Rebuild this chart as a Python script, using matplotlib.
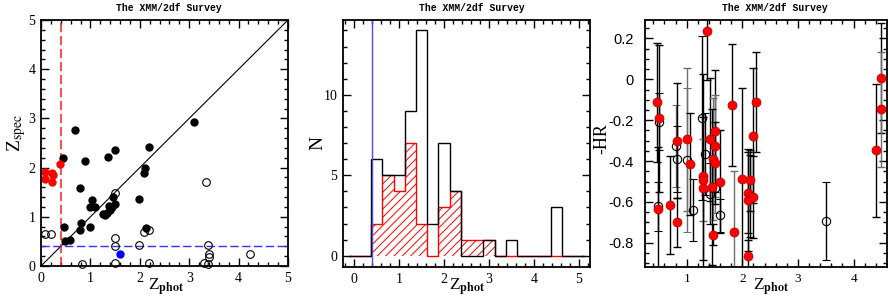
import numpy as np
import matplotlib
matplotlib.use("Agg")
import matplotlib.pyplot as plt
from matplotlib.ticker import MultipleLocator, FuncFormatter

plt.rcParams['font.family'] = ['Liberation Serif', 'DejaVu Serif']
plt.rcParams['mathtext.fontset'] = 'stix'
plt.rcParams['hatch.linewidth'] = 0.7

TITLE = "The XMM/2df Survey"

# ---------------- Panel 1 data: z_phot vs z_spec ----------------
p1_black_x = [0.69, 0.44, 0.89, 1.36, 1.50, 0.79, 1.03, 0.99, 1.10, 1.45, 1.49, 1.38,
              1.25, 1.30, 1.34, 1.40, 1.43, 0.46, 0.81, 0.79, 0.99, 0.49, 0.59,
              1.98, 2.19, 2.10, 2.09, 2.13, 3.10]
p1_black_y = [2.76, 2.20, 2.13, 2.21, 2.35, 1.59, 1.34, 1.19, 1.19, 1.40, 1.27, 1.22,
              1.05, 1.04, 1.08, 1.14, 1.19, 0.79, 0.87, 0.73, 0.80, 0.50, 0.53,
              1.37, 2.42, 1.99, 1.90, 0.78, 2.92]
p1_red_x = [0.08, 0.09, 0.23, 0.24, 0.22, 0.38]
p1_red_y = [1.91, 1.76, 1.89, 1.84, 1.70, 2.07]
p1_blue_x = [1.59]
p1_blue_y = [0.24]
p1_open_x = [0.08, 0.20, 0.82, 1.50, 1.49, 1.49, 1.50, 1.98, 2.09, 2.19, 2.19,
             3.35, 3.39, 3.40, 3.40, 3.30, 3.39, 4.23]
p1_open_y = [0.65, 0.66, 0.04, 1.49, 0.56, 0.41, 0.07, 0.43, 0.70, 0.73, 0.07,
             1.71, 0.43, 0.24, 0.19, 0.07, 0.05, 0.24]
p1_cut = 0.4

# ---------------- Panel 2 data: histograms ----------------
hist_edges = [-0.125 + 0.25 * i for i in range(22)]
hist_all = [0, 0, 6, 5, 5, 9, 14, 2, 7, 4, 0, 0, 1, 0, 1, 0, 0, 0, 3, 0, 0]
hist_sel = [0, 0, 2, 5, 4, 7, 2, 0, 3, 4, 1, 1, 1, 0, 0, 0, 0, 0, 0, 0, 0]

# ---------------- Panel 3 data: -HR vs z_phot ----------------
hr_red_x = [0.46, 0.51, 0.48, 0.70, 0.82, 0.82, 1.00, 1.06, 1.37, 1.30, 1.30, 1.30,
            1.41, 1.50, 1.50, 1.47, 1.51, 1.46, 1.48, 1.82, 1.85, 2.25, 2.20, 1.60,
            2.00, 2.14, 2.10, 2.13, 2.10, 2.20, 2.10, 4.50, 4.49, 4.40]
hr_red_y = [-0.113, -0.19, -0.632, -0.613, -0.30, -0.70, -0.293, -0.415, 0.238, -0.474,
            -0.494, -0.534, -0.293, -0.253, -0.327, -0.39, -0.41, -0.526, -0.76, -0.126,
            -0.747, -0.11, -0.276, -0.50, -0.489, -0.494, -0.554, -0.572, -0.59, -0.575,
            -0.865, 0.006, -0.147, -0.348]
hr_red_err = [0.29, 0.36, 0.30, 0.24, 0.28, 0.12, 0.35, 0.25, 0.24, 0.50, 0.20, 0.35,
              0.30, 0.30, 0.25, 0.30, 0.20, 0.38, 0.05, 0.30, 0.30, 0.245, 0.33, 0.25,
              0.445, 0.15, 0.20, 0.20, 0.25, 0.20, 0.08, 0.27, 0.28, 0.325]
hr_red_col = ['k', 'k', 'k', 'k', 'k', 'k', 'g', 'k', 'k', 'k', 'g', 'k',
              'k', 'k', 'g', 'g', 'k', 'k', 'k', 'k', 'g', 'k', 'k', 'k',
              'k', 'k', 'k', 'k', 'k', 'k', 'k', 'k', 'g', 'k']
hr_open_x = [0.51, 0.48, 0.81, 0.83, 1.01, 1.11, 1.27, 1.33, 1.42, 1.51, 1.60, 3.50]
hr_open_y = [-0.208, -0.62, -0.325, -0.39, -0.395, -0.64, -0.19, -0.366, -0.56, -0.534,
             -0.665, -0.693]
hr_open_err = [0.14, 0.12, 0.20, 0.16, 0.35, 0.15, 0.40, 0.20, 0.15, 0.12, 0.08, 0.19]
hr_open_col = ['k', 'k', 'g', 'k', 'g', 'k', 'k', 'k', 'k', 'g', 'k', 'k']

W, H = 888, 299
fig = plt.figure(figsize=(W / 100, H / 100), dpi=100)


def px_axes(x0, x1, y0, y1):
    return fig.add_axes([x0 / W, 1 - y1 / H, (x1 - x0) / W, (y1 - y0) / H])


def style(ax):
    for s in ax.spines.values():
        s.set_linewidth(1.3)
    ax.tick_params(which='both', direction='in', top=True, right=True, width=1.0)
    ax.tick_params(which='major', length=5.5, labelsize=10, pad=4)
    ax.tick_params(which='minor', length=2.8)


gcol = {'k': 'black', 'g': '#6e6e6e'}

# ---------- Panel 1 ----------
ax1 = px_axes(41, 288, 20, 266)
style(ax1)
ax1.set_xlim(0, 5)
ax1.set_ylim(0, 5)
ax1.xaxis.set_major_locator(MultipleLocator(1))
ax1.xaxis.set_minor_locator(MultipleLocator(0.2))
ax1.yaxis.set_major_locator(MultipleLocator(1))
ax1.yaxis.set_minor_locator(MultipleLocator(0.2))
ax1.plot([0, 5], [0, 5], color='black', lw=0.8)
ax1.axvline(p1_cut, color='#ff1a1a', lw=1.1, dashes=(6, 2.5))
ax1.axhline(p1_cut, color='#3030ff', lw=1.0, dashes=(6, 2.5))
ax1.plot(p1_black_x, p1_black_y, 'o', color='black', ms=5, mec='black')
ax1.plot(p1_open_x, p1_open_y, 'o', mfc='none', mec='black', ms=5.5, mew=0.8, clip_on=False)
ax1.plot(p1_red_x, p1_red_y, 'o', color='red', ms=5, clip_on=False)
ax1.plot(p1_blue_x, p1_blue_y, 'o', color='blue', ms=5)

# ---------- Panel 2 ----------
ax2 = px_axes(343, 590, 20, 267)
style(ax2)
ax2.set_xlim(-0.25, 5.25)
ax2.set_ylim(-0.7, 14.65)
ax2.xaxis.set_major_locator(MultipleLocator(1))
ax2.xaxis.set_minor_locator(MultipleLocator(0.2))
ax2.yaxis.set_major_locator(MultipleLocator(5))
ax2.yaxis.set_minor_locator(MultipleLocator(1))
ax2.stairs(hist_sel, hist_edges, fill=False, hatch='////', edgecolor='red', lw=0.0)
ax2.stairs(hist_sel, hist_edges, baseline=None, color='red', lw=1.0)
ax2.stairs(hist_all, hist_edges, baseline=None, color='black', lw=1.0)
ax2.axvline(p1_cut, color='#4848ff', lw=1.0)

# ---------- Panel 3 ----------
ax3 = px_axes(645, 887, 20, 267)
style(ax3)
ax3.set_xlim(0.25, 4.6)
ax3.set_ylim(-0.918, 0.29)
ax3.xaxis.set_major_locator(MultipleLocator(1))
ax3.xaxis.set_minor_locator(MultipleLocator(0.2))
ax3.yaxis.set_major_locator(MultipleLocator(0.2))
ax3.yaxis.set_minor_locator(MultipleLocator(0.05))
ax3.yaxis.set_major_formatter(FuncFormatter(
    lambda v, p: ('0' if abs(v) < 1e-9 else '%.1f' % v)))
ax3.tick_params(axis='y', labelsize=10.5, pad=8)
ax3.tick_params(axis='x', labelsize=9.5)
for x, y, e, c in zip(hr_open_x, hr_open_y, hr_open_err, hr_open_col):
    ax3.errorbar([x], [y], yerr=[e], fmt='o', mfc='none', mec='black', ms=6, mew=0.8,
                 ecolor=gcol[c], elinewidth=1.0, capsize=3, capthick=1.0)
for x, y, e, c in zip(hr_red_x, hr_red_y, hr_red_err, hr_red_col):
    ax3.errorbar([x], [y], yerr=[e], fmt='none', ecolor=gcol[c], elinewidth=1.0,
                 capsize=3, capthick=1.0)
ax3.plot(hr_red_x, hr_red_y, 'o', mfc='red', mec='#b00000', ms=6.5, mew=0.5, zorder=5)

# axis labels
fig.text(17 / W, 1 - 133 / H, r'Z$_{\rm spec}$', rotation=90, ha='center', va='center',
         fontsize=14)
fig.text(318 / W, 1 - 143 / H, 'N', rotation=90, ha='center', va='center', fontsize=14)
fig.text(602 / W, 1 - 139 / H, '-HR', rotation=90, ha='center', va='center', fontsize=13)

fig.canvas.draw()
for lab in ax3.get_yticklabels():
    lab.set_family(['Liberation Sans', 'DejaVu Sans'])

# titles and x labels
for cx in (169, 472, 775):
    fig.text(cx / W, 1 - 8 / H, TITLE, ha='center', va='center', fontsize=7,
             family=['Liberation Mono', 'DejaVu Sans Mono'], weight='bold')
for cx in (166, 467, 771):
    fig.text(cx / W, 1 - 287 / H, r'Z$_{\bf phot}$', ha='center', va='center',
             fontsize=12.5)

fig.savefig('out.png', dpi=100)
